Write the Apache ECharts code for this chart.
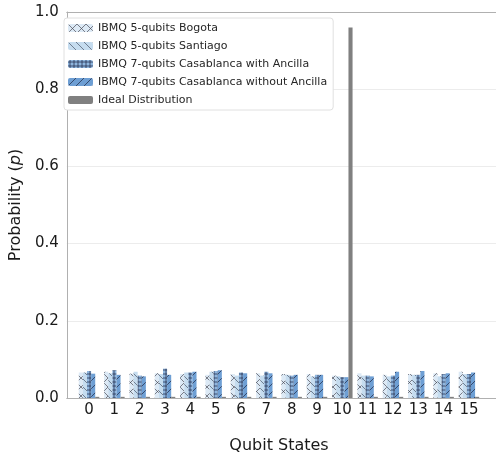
<!DOCTYPE html>
<html>
<head>
<meta charset="utf-8">
<script src="https://cdn.jsdelivr.net/npm/echarts@6/dist/echarts.min.js"></script>
<style>
  html, body { margin: 0; padding: 0; background: #ffffff; }
  #chart { width: 496px; height: 459px; }
</style>
</head>
<body>
<div id="chart"></div>
<script>
// Measured probabilities per basis state |0> .. |15>
const states = ['0', '1', '2', '3', '4', '5', '6', '7', '8', '9', '10', '11', '12', '13', '14', '15'];
const bogota      = [0.066, 0.068, 0.063, 0.064, 0.062, 0.060, 0.062, 0.064, 0.062, 0.062, 0.058, 0.064, 0.060, 0.062, 0.064, 0.068];
const santiago    = [0.066, 0.064, 0.068, 0.062, 0.066, 0.068, 0.058, 0.058, 0.060, 0.056, 0.056, 0.058, 0.056, 0.060, 0.056, 0.062];
const casaWith    = [0.070, 0.072, 0.058, 0.076, 0.066, 0.070, 0.066, 0.068, 0.058, 0.060, 0.054, 0.058, 0.058, 0.060, 0.062, 0.062];
const casaWithout = [0.063, 0.060, 0.056, 0.060, 0.068, 0.072, 0.064, 0.064, 0.060, 0.060, 0.054, 0.056, 0.068, 0.070, 0.064, 0.066];
const ideal       = [0.003, 0.003, 0.003, 0.003, 0.003, 0.003, 0.003, 0.003, 0.003, 0.003, 0.960, 0.003, 0.003, 0.003, 0.003, 0.003];
const seriesNames = [
  'IBMQ 5-qubits Bogota',
  'IBMQ 5-qubits Santiago',
  'IBMQ 7-qubits Casablanca with Ancilla',
  'IBMQ 7-qubits Casablanca without Ancilla',
  'Ideal Distribution'
];

// Hatched fill tiles
function hatchTile(size, fill, stroke, kind, w, h) {
  const c = document.createElement('canvas');
  c.width = w || size; c.height = h || size;
  const W = c.width, H = c.height;
  const g = c.getContext('2d');
  g.fillStyle = fill;
  g.fillRect(0, 0, W, H);
  g.strokeStyle = stroke;
  g.lineWidth = 0.9;
  g.beginPath();
  const fwd = () => { // '/'
    g.moveTo(-1, H + 1); g.lineTo(W + 1, -1);
    g.moveTo(-1, 1); g.lineTo(1, -1);
    g.moveTo(W - 1, H + 1); g.lineTo(W + 1, H - 1);
  };
  const back = () => { // '\'
    g.moveTo(-1, -1); g.lineTo(W + 1, H + 1);
    g.moveTo(W - 1, -1); g.lineTo(W + 1, 1);
    g.moveTo(-1, H - 1); g.lineTo(1, H + 1);
  };
  if (kind === '/') fwd();
  if (kind === '\\') back();
  if (kind === 'x') { fwd(); back(); }
  if (kind === '+') {
    g.moveTo(W / 2, 0); g.lineTo(W / 2, H);
    g.moveTo(0, H / 2); g.lineTo(W, H / 2);
  }
  g.stroke();
  return { image: c, repeat: 'repeat' };
}

const fills = [
  hatchTile(9, '#dce9f5', 'rgba(70,70,80,0.75)', 'x'),
  hatchTile(8, '#c5dcef', 'rgba(60,70,90,0.7)', '\\'),
  hatchTile(4, '#8fb6de', 'rgba(30,40,70,0.8)', '+', 4, 4),
  hatchTile(8, '#6e9fd4', 'rgba(30,40,70,0.8)', '/'),
  '#808080'
];
const seriesData = [bogota, santiago, casaWith, casaWithout, ideal];

const font = 'DejaVu Sans';
const chart = echarts.init(document.getElementById('chart'), null, { renderer: 'canvas' });

const series = seriesNames.map((name, i) => ({
  name: name,
  type: 'bar',
  xAxisIndex: 2,
  yAxisIndex: 1,
  data: seriesData[i],
  barWidth: 4.1,
  barGap: '0%',
  itemStyle: { color: fills[i] },
  emphasis: { disabled: true },
  animation: false
}));

chart.setOption({
  backgroundColor: '#ffffff',
  animation: false,
  textStyle: { fontFamily: font },
  grid: [
    { left: 63, top: 12, width: 436, bottom: 61 },       // frame, spines, y scale
    { left: 76.4, top: 12, width: 405.2, bottom: 61 }    // bars on categories
  ],
  legend: {
    orient: 'vertical',
    left: 64, top: 18,
    padding: [4, 6, 4, 4],
    itemWidth: 25, itemHeight: 8,
    itemGap: 6,
    backgroundColor: '#ffffff',
    borderColor: '#e0e0e0', borderWidth: 1, borderRadius: 3,
    textStyle: { fontFamily: font, fontSize: 11, color: '#262626', lineHeight: 12 },
    data: seriesNames
  },
  xAxis: [
    { gridIndex: 0, type: 'value', min: 0, max: 1, position: 'bottom',
      axisLine: { show: true, lineStyle: { color: '#b0b0b0', width: 1 } },
      axisTick: { show: false }, axisLabel: { show: false }, splitLine: { show: false } },
    { gridIndex: 0, type: 'value', min: 0, max: 1, position: 'top',
      axisLine: { show: true, lineStyle: { color: '#b0b0b0', width: 1 } },
      axisTick: { show: false }, axisLabel: { show: false }, splitLine: { show: false } },
    { gridIndex: 1, type: 'category', data: states, boundaryGap: true,
      axisLine: { show: false }, axisTick: { show: false },
      axisLabel: { fontFamily: font, fontSize: 15, color: '#1a1a1a', margin: 5, interval: 0 },
      name: 'Qubit States', nameLocation: 'middle', nameGap: 40,
      nameTextStyle: { fontFamily: font, fontSize: 16, color: '#1a1a1a' } }
  ],
  yAxis: [
    { gridIndex: 0, type: 'value', min: 0, max: 1, interval: 0.2,
      axisLine: { show: true, lineStyle: { color: '#b0b0b0', width: 1 } },
      axisTick: { show: false },
      axisLabel: { fontFamily: font, fontSize: 15, color: '#1a1a1a', margin: 8,
        formatter: v => v.toFixed(1) },
      splitLine: { show: true, lineStyle: { color: '#ececec', width: 1 } },
      name: 'Probability ({i|p})', nameLocation: 'middle', nameGap: 37,
      nameTextStyle: { fontFamily: font, fontSize: 16, color: '#1a1a1a',
        rich: { i: { fontFamily: font, fontSize: 16, fontStyle: 'italic', color: '#1a1a1a' } } } },
    { gridIndex: 1, type: 'value', min: 0, max: 1, show: false }
  ],
  series: series
});
</script>
</body>
</html>
